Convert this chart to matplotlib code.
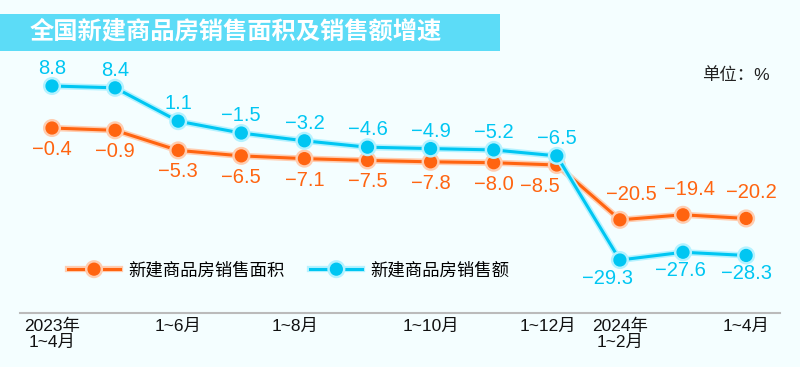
import matplotlib
matplotlib.use("Agg")
import matplotlib.pyplot as plt
import matplotlib.patheffects as pe
from matplotlib.patches import Rectangle
from matplotlib.transforms import ScaledTranslation

plt.rcParams['font.family'] = ['Liberation Sans', 'Noto Sans CJK SC', 'DejaVu Sans']

periods = ["2023年\n1~4月", "1~5月", "1~6月", "1~7月", "1~8月", "1~9月",
           "1~10月", "1~11月", "1~12月", "2024年\n1~2月", "1~3月", "1~4月"]
shown = [0, 2, 4, 6, 8, 9, 11]
area = [-0.4, -0.9, -5.3, -6.5, -7.1, -7.5, -7.8, -8.0, -8.5, -20.5, -19.4, -20.2]
amount = [8.8, 8.4, 1.1, -1.5, -3.2, -4.6, -4.9, -5.2, -6.5, -29.3, -27.6, -28.3]

orange = "#FF6410"
orange_glow = "#FFCDB0"
cyan = "#00C6F2"
cyan_glow = "#B4F2FF"
bg = "#F4FEFF"

fig = plt.figure(figsize=(8, 3.67), dpi=100, facecolor=bg)

# title banner
fig.patches.append(Rectangle((0, 1 - 51/367), 500/800, 37/367, transform=fig.transFigure,
                             facecolor="#5CDCF7", edgecolor="none", zorder=0))
fig.text(30/800, 1 - 32/367, "全国新建商品房销售面积及销售额增速", color="white",
         fontsize=17.5, fontweight="bold", va="center", ha="left")
fig.text(770/800, 1 - 75/367, "单位：%", fontsize=12.5, ha="right", va="center", color="#222222")

ax = fig.add_axes([20/800, 54/367, 760/800, 273/367])
ax.set_facecolor("none")
x = list(range(len(periods)))

l1, = ax.plot(x, area, color=orange, lw=2.2, marker="o", ms=8.5, mec=orange, mfc=orange,
              label="新建商品房销售面积", zorder=3,
              path_effects=[pe.withStroke(linewidth=4.5, foreground=orange_glow)])
l2, = ax.plot(x, amount, color=cyan, lw=2.2, marker="o", ms=8.5, mec=cyan, mfc=cyan,
              label="新建商品房销售额", zorder=4,
              path_effects=[pe.withStroke(linewidth=4.5, foreground=cyan_glow)])

def fmt(v):
    return f"{v:.1f}".replace("-", "−")

# small sideways nudges so labels clear the steep segment
dx_area = {8: -12, 9: 8, 10: 5, 11: 4}
dx_amount = {9: -9, 10: -2}

for i, v in enumerate(area):
    off = 18.5 if i >= 9 else -15.5
    ax.annotate(fmt(v), (i, v), xytext=(dx_area.get(i, 0), off), textcoords="offset points",
                ha="center", va="center", fontsize=14.5, color=orange)
for i, v in enumerate(amount):
    off = -13 if i >= 9 else 12.5
    ax.annotate(fmt(v), (i, v), xytext=(dx_amount.get(i, 0), off), textcoords="offset points",
                ha="center", va="center", fontsize=14.5, color=cyan)

ax.set_xlim(-0.507, 11.537)
ax.set_ylim(-40.9, 18.87)
for s in ["top", "right", "left"]:
    ax.spines[s].set_visible(False)
ax.spines["bottom"].set_color("#BBBBBB")
ax.spines["bottom"].set_linewidth(1.5)
ax.set_yticks([])
ax.set_xticks([x[i] for i in shown])
ax.set_xticklabels([periods[i] for i in shown], fontsize=12.5, color="#111111",
                   linespacing=1.1)
ax.tick_params(axis="x", length=0, pad=4)
for lab, txt in zip(ax.get_xticklabels(), [periods[i] for i in shown]):
    if txt in ("1~8月", "1~12月"):
        lab.set_transform(lab.get_transform() + ScaledTranslation(-0.09, 0, fig.dpi_scale_trans))

ax.legend(handles=[l1, l2], loc="center left", bbox_to_anchor=(68/800, 1 - 270/367),
          bbox_transform=fig.transFigure, frameon=False, ncol=2, fontsize=12.5,
          handlelength=3.0, handletextpad=0.45, columnspacing=1.5, borderpad=0,
          borderaxespad=0, numpoints=1)

fig.savefig("out.png", dpi=100, facecolor=bg)
